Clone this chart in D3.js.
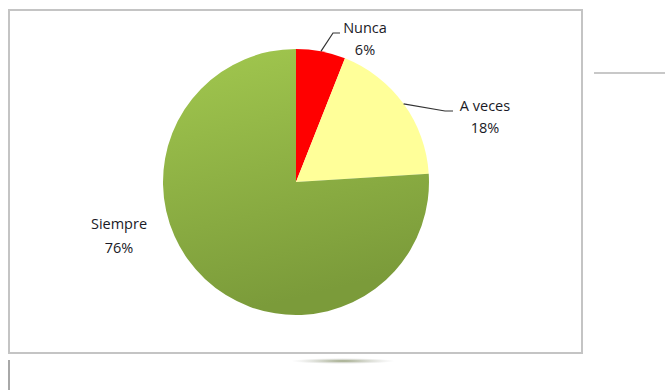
<!DOCTYPE html>
<html>
<head>
<meta charset="utf-8">
<script src="https://cdn.jsdelivr.net/npm/d3@7/dist/d3.min.js"></script>
<style>
  html, body { margin: 0; padding: 0; background: #fff; }
  svg { display: block; }
  text { font-family: "Open Sans", "Noto Sans", sans-serif; font-size: 14.5px; fill: #1a1a26; }
</style>
</head>
<body>
<svg id="chart" width="665" height="390"></svg>
<script>
// Survey answers and their shares (percent)
const categories = ["Nunca", "A veces", "Siempre"];
const values = [6, 18, 76];
const sliceColors = ["#ff0000", "#ffff99", "url(#greenGrad)"];

const svg = d3.select("#chart");

// Gradient for the large green slice
const defs = svg.append("defs");
const g1 = defs.append("linearGradient").attr("id", "greenGrad")
  .attr("x1", 0).attr("y1", 0).attr("x2", 0.25).attr("y2", 1);
g1.append("stop").attr("offset", "0%").attr("stop-color", "#a2c84f");
g1.append("stop").attr("offset", "100%").attr("stop-color", "#7b9b3a");

const shadowGrad = defs.append("radialGradient").attr("id", "shadowGrad");
shadowGrad.append("stop").attr("offset", "0%").attr("stop-color", "#7d8a5a").attr("stop-opacity", 0.8);
shadowGrad.append("stop").attr("offset", "100%").attr("stop-color", "#bbbbbb").attr("stop-opacity", 0);

// Chart frame
svg.append("rect")
  .attr("x", 9).attr("y", 10).attr("width", 573).attr("height", 343)
  .attr("fill", "#fff").attr("stroke", "#c4c4c4").attr("stroke-width", 2);

// Page rules around the frame
svg.append("line").attr("x1", 594).attr("x2", 665).attr("y1", 73).attr("y2", 73)
  .attr("stroke", "#c8c8c8").attr("stroke-width", 2);
svg.append("line").attr("x1", 9).attr("x2", 9).attr("y1", 360).attr("y2", 390)
  .attr("stroke", "#a8a8a8").attr("stroke-width", 2);
svg.append("ellipse").attr("cx", 343).attr("cy", 361).attr("rx", 52).attr("ry", 3)
  .attr("fill", "url(#shadowGrad)");

// Pie
const cx = 296, cy = 182, r = 133;
const pie = d3.pie().sort(null).value(d => d);
const arcs = pie(values);
const arc = d3.arc().innerRadius(0).outerRadius(r);

const g = svg.append("g").attr("transform", `translate(${cx},${cy})`);
g.selectAll("path.slice").data(arcs).enter().append("path")
  .attr("class", "slice")
  .attr("d", arc)
  .attr("fill", (d, i) => sliceColors[i]);

// Leader lines for the two small slices
function edgePoint(d, frac) {
  const a = d.startAngle + (d.endAngle - d.startAngle) * frac;
  return [cx + Math.sin(a) * r, cy - Math.cos(a) * r];
}
const p0 = edgePoint(arcs[0], 0.5);
svg.append("polyline")
  .attr("points", [p0, [333, 33], [340, 33]].map(p => p.join(",")).join(" "))
  .attr("fill", "none").attr("stroke", "#333").attr("stroke-width", 1.2);
const p1 = edgePoint(arcs[1], 0.5);
svg.append("polyline")
  .attr("points", [p1, [445, 111], [453, 111]].map(p => p.join(",")).join(" "))
  .attr("fill", "none").attr("stroke", "#333").attr("stroke-width", 1.2);

// Labels
const labelPos = [[365, 29, 51], [485, 107, 129], [119, 225, 249]];
categories.forEach((c, i) => {
  const [x, y1, y2] = labelPos[i];
  svg.append("text").attr("x", x).attr("y", y1).attr("text-anchor", "middle")
    .attr("dominant-baseline", "middle").text(c);
  svg.append("text").attr("x", x).attr("y", y2).attr("text-anchor", "middle")
    .attr("dominant-baseline", "middle").text(values[i] + "%");
});
</script>
</body>
</html>
